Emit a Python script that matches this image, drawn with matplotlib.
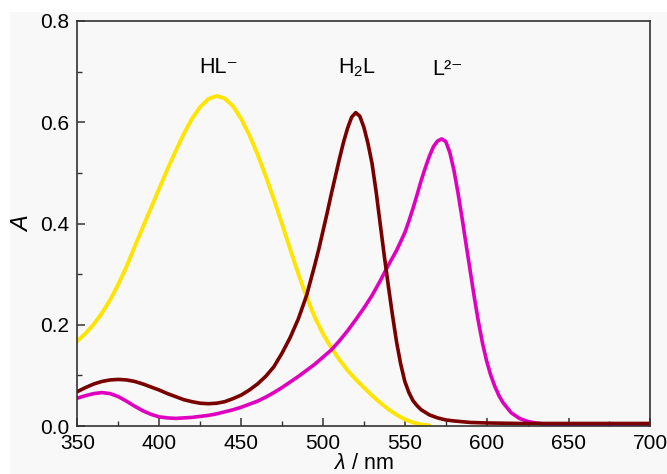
import numpy as np
import matplotlib
matplotlib.use("Agg")
import matplotlib.pyplot as plt
from matplotlib.patches import Rectangle

plt.rcParams['font.family'] = ['Liberation Sans', 'DejaVu Sans']
plt.rcParams['mathtext.fontset'] = 'custom'
plt.rcParams['mathtext.rm'] = 'Liberation Sans'
plt.rcParams['mathtext.it'] = 'Liberation Sans:italic'

# HL- spectrum
wl_HL = [350, 355, 360, 365, 370, 375, 380, 385, 390, 395, 400, 405, 410, 415,
         420, 425, 430, 435, 440, 445, 450, 455, 460, 465, 470, 475, 480, 485,
         490, 495, 500, 505, 510, 515, 520, 525, 530, 535, 540, 545, 550, 555,
         560, 565]
A_HL = [0.168, 0.183, 0.201, 0.223, 0.249, 0.280, 0.315, 0.354, 0.393, 0.431,
        0.469, 0.507, 0.543, 0.577, 0.607, 0.630, 0.646, 0.652, 0.647, 0.632,
        0.607, 0.575, 0.537, 0.494, 0.448, 0.399, 0.349, 0.300, 0.255, 0.215,
        0.182, 0.155, 0.131, 0.110, 0.092, 0.076, 0.060, 0.046, 0.033, 0.022,
        0.013, 0.007, 0.003, 0.001]

# H2L spectrum
wl_H2L = [350, 355, 360, 365, 370, 375, 380, 385, 390, 395, 400, 405, 410, 415,
          420, 425, 430, 435, 440, 445, 450, 455, 460, 465, 470, 475, 480, 485,
          490, 495, 497.5, 500, 502.5, 505, 507.5, 510, 512.5, 515, 517.5, 520,
          522.5, 525, 527.5, 530, 532.5, 535, 537.5, 540, 542.5, 545, 547.5,
          550, 552.5, 555, 557.5, 560, 565, 570, 575, 580, 585, 590, 595, 600,
          610, 620, 640, 660, 680, 700]
A_H2L = [0.068, 0.076, 0.083, 0.088, 0.091, 0.092, 0.091, 0.088, 0.083, 0.077,
         0.071, 0.064, 0.058, 0.052, 0.048, 0.045, 0.044, 0.045, 0.048, 0.054,
         0.061, 0.071, 0.083, 0.098, 0.117, 0.144, 0.175, 0.212, 0.258, 0.318,
         0.350, 0.385, 0.420, 0.457, 0.492, 0.527, 0.560, 0.588, 0.610, 0.619,
         0.612, 0.590, 0.558, 0.518, 0.462, 0.398, 0.335, 0.275, 0.218, 0.165,
         0.122, 0.088, 0.066, 0.050, 0.040, 0.032, 0.022, 0.016, 0.012, 0.010,
         0.0085, 0.007, 0.0065, 0.006, 0.0055, 0.005, 0.005, 0.005, 0.005,
         0.005]

# L2- spectrum
wl_L2 = [350, 355, 360, 365, 370, 375, 380, 385, 390, 395, 400, 405, 410, 415,
         420, 425, 430, 435, 440, 445, 450, 455, 460, 465, 470, 475, 480, 485,
         490, 495, 500, 505, 510, 515, 520, 525, 530, 535, 540, 545, 550, 552.5,
         555, 557.5, 560, 562.5, 565, 567.5, 570, 572.5, 575, 577.5, 580, 582.5,
         585, 587.5, 590, 592.5, 595, 597.5, 600, 602.5, 605, 607.5, 610, 615,
         620, 625, 630, 635, 640, 660, 680, 700]
A_L2 = [0.055, 0.060, 0.064, 0.066, 0.064, 0.058, 0.049, 0.039, 0.030, 0.023,
        0.018, 0.016, 0.015, 0.016, 0.017, 0.019, 0.021, 0.024, 0.028, 0.032,
        0.037, 0.043, 0.049, 0.057, 0.066, 0.076, 0.087, 0.098, 0.110, 0.122,
        0.136, 0.150, 0.168, 0.188, 0.210, 0.233, 0.258, 0.287, 0.318, 0.347,
        0.382, 0.405, 0.430, 0.457, 0.485, 0.510, 0.533, 0.552, 0.563, 0.567,
        0.562, 0.540, 0.505, 0.460, 0.410, 0.357, 0.305, 0.253, 0.205, 0.163,
        0.128, 0.100, 0.078, 0.060, 0.046, 0.026, 0.015, 0.009, 0.006, 0.004,
        0.003, 0.003, 0.003, 0.003]

labels = ["HL\u207b", "H$_{\\mathregular{2}}$L", "L\u00b2\u207b"]
label_pos = [(436, 0.688), (521, 0.685), (576, 0.683)]

fig = plt.figure(figsize=(6.67, 4.74), dpi=100, facecolor='white')
fig.patches.append(Rectangle((10/667, 0), 1, 1 - 12/474, transform=fig.transFigure,
                             facecolor='#f8f8f8', edgecolor='none', zorder=-10))
ax = fig.add_axes([77.4/667, 1 - 426/474, (650.4 - 77.4)/667, (426 - 21)/474])
ax.set_facecolor('#f8f8f8')

ax.plot(wl_HL, A_HL, color='#ffe400', lw=2.8, solid_capstyle='round')
ax.plot(wl_L2, A_L2, color='#e000c0', lw=2.6, solid_capstyle='round')
ax.plot(wl_H2L, A_H2L, color='#7a0000', lw=2.6, solid_capstyle='round')

for t, (x, y) in zip(labels, label_pos):
    ax.text(x, y, t, ha='center', va='bottom', fontsize=15.5)

ax.set_xlim(350, 700)
ax.set_ylim(0, 0.8)
ax.set_xticks(np.arange(350, 701, 50))
ax.set_xticks(np.arange(375, 700, 50), minor=True)
ax.set_yticks([0.0, 0.2, 0.4, 0.6, 0.8])
ax.set_yticks([0.1, 0.3, 0.5, 0.7], minor=True)
ax.set_yticklabels(['0.0', '0.2', '0.4', '0.6', '0.8'])
ax.tick_params(which='major', direction='in', length=6, width=1.1, labelsize=15,
               color='#333333')
ax.tick_params(axis='x', which='major', pad=6)
ax.tick_params(axis='y', which='major', pad=6)
ax.tick_params(which='minor', direction='in', length=3.5, width=1.0, color='#333333')
for s in ax.spines.values():
    s.set_color('#333333')
    s.set_linewidth(1.2)

ax.set_ylabel('$\\mathit{A}$', fontsize=17, labelpad=5)
ax.set_xlabel('$\\mathit{\\lambda}$ / nm', fontsize=15.5, labelpad=0)

fig.savefig('out.png', dpi=100, facecolor=fig.get_facecolor())
